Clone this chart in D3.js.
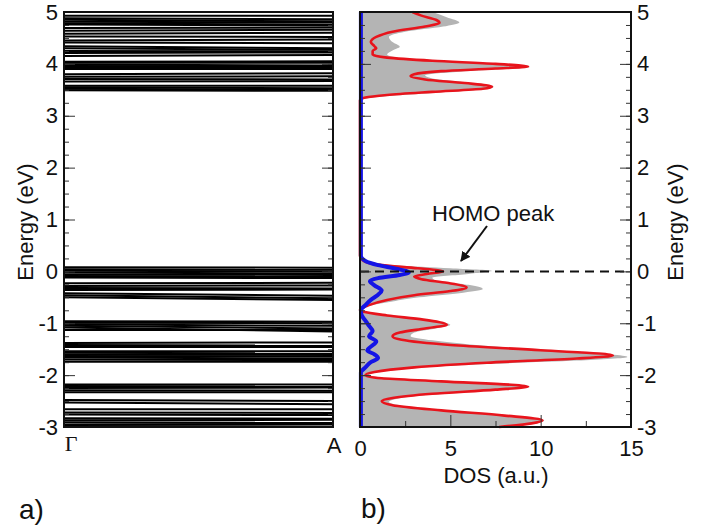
<!DOCTYPE html>
<html>
<head>
<meta charset="utf-8">
<script src="https://cdn.jsdelivr.net/npm/d3@7"></script>
<style>
  body { margin: 0; background: #fff; }
  text { font-family: "Liberation Sans", Arial, sans-serif; fill: #111; }
</style>
</head>
<body>
<svg id="chart" width="702" height="527"></svg>
<script>
// band energies (eV) at Gamma and at A, one entry per band
const bandsGamma = [4.93, 4.88, 4.85, 4.81, 4.78, 4.76, 4.69, 4.64, 4.58, 4.53, 4.45, 4.41, 4.34, 4.30, 4.25, 4.21, 4.15,
  4.04, 4.02, 3.99, 3.96, 3.93, 3.90, 3.80, 3.75, 3.71, 3.66, 3.58, 3.55, 3.52, 3.49,
  0.08, 0.04, 0.01, -0.02, -0.06, -0.09, -0.12, -0.23, -0.28, -0.32, -0.36, -0.42, -0.46, -0.50,
  -0.96, -0.99, -1.02, -1.05, -1.08, -1.13, -1.38, -1.42, -1.46, -1.54, -1.57, -1.60, -1.63, -1.66, -1.70, -1.74,
  -2.18, -2.21, -2.25, -2.29, -2.33, -2.48, -2.53, -2.66, -2.72, -2.76, -2.83, -2.87, -2.91, -2.95, -2.98];
const bandsA = [4.93, 4.86, 4.82, 4.80, 4.76, 4.74, 4.70, 4.66, 4.60, 4.52, 4.47, 4.40, 4.30, 4.27, 4.24, 4.22, 4.17,
  4.05, 4.02, 3.97, 3.95, 3.92, 3.90, 3.82, 3.76, 3.70, 3.67, 3.58, 3.53, 3.50, 3.48,
  0.07, 0.03, 0.00, -0.04, -0.07, -0.10, -0.13, -0.22, -0.27, -0.33, -0.35, -0.47, -0.52, -0.55,
  -0.97, -1.00, -1.05, -1.10, -1.16, -1.13, -1.37, -1.43, -1.46, -1.54, -1.58, -1.61, -1.64, -1.68, -1.71, -1.74,
  -2.18, -2.22, -2.24, -2.30, -2.33, -2.50, -2.56, -2.66, -2.73, -2.77, -2.84, -2.86, -2.92, -2.94, -2.99];

// DOS curves as [energy, dos]
const dosTotal = [[5.0, 4.0], [4.9, 4.8], [4.8, 5.5], [4.72, 4.6], [4.62, 2.5], [4.52, 1.6], [4.42, 1.8], [4.33, 2.2],
  [4.26, 1.8], [4.18, 1.5], [4.1, 2.5], [4.04, 5.0], [3.97, 8.5], [3.94, 9.4], [3.9, 8.0], [3.85, 5.5], [3.78, 3.6],
  [3.72, 4.0], [3.64, 6.0], [3.56, 7.4], [3.5, 6.5], [3.44, 4.0], [3.38, 1.5], [3.33, 0.3], [3.3, 0], [0.3, 0],
  [0.2, 0.4], [0.12, 2.0], [0.06, 5.0], [0.01, 7.3], [-0.05, 6.0], [-0.12, 4.0], [-0.18, 4.2], [-0.26, 6.0],
  [-0.34, 6.8], [-0.42, 5.5], [-0.5, 3.3], [-0.58, 1.8], [-0.66, 0.6], [-0.74, 0], [-0.78, 0.3], [-0.86, 2.0],
  [-0.95, 4.0], [-1.03, 5.0], [-1.1, 4.2], [-1.18, 3.0], [-1.25, 2.8], [-1.33, 4.0], [-1.45, 7.5], [-1.55, 12],
  [-1.65, 14.8], [-1.72, 12], [-1.8, 6], [-1.9, 2], [-1.97, 0.5], [-2.02, 0.6], [-2.1, 4], [-2.2, 9.0], [-2.23, 9.4],
  [-2.3, 7], [-2.38, 3.8], [-2.46, 2], [-2.52, 1.6], [-2.6, 2.5], [-2.7, 5.5], [-2.8, 8.8], [-2.87, 10.2],
  [-2.93, 9.8], [-3.0, 8.0]];
const dosRed = [[5.0, 2.9], [4.93, 3.4], [4.85, 4.2], [4.79, 4.4], [4.72, 3.6], [4.62, 1.8], [4.52, 0.9], [4.42, 0.6],
  [4.34, 0.8], [4.30, 0.9], [4.25, 0.7], [4.18, 0.7], [4.12, 1.5], [4.06, 4.0], [4.0, 7.5], [3.95, 9.3], [3.91, 7.5],
  [3.86, 4.5], [3.8, 3.0], [3.76, 2.8], [3.7, 3.6], [3.63, 5.8], [3.56, 7.3], [3.52, 6.8], [3.46, 4.0], [3.4, 1.5],
  [3.35, 0.3], [3.3, 0], [0.3, 0], [0.2, 0.2], [0.12, 1.2], [0.06, 3.2], [0.0, 4.6], [-0.05, 3.7], [-0.1, 3.0],
  [-0.15, 3.4], [-0.22, 4.8], [-0.31, 5.9], [-0.38, 5.0], [-0.46, 3.0], [-0.55, 1.5], [-0.65, 0.5], [-0.74, 0],
  [-0.78, 0.2], [-0.85, 1.5], [-0.93, 3.5], [-1.03, 4.8], [-1.1, 3.6], [-1.18, 2.2], [-1.25, 1.8], [-1.32, 2.3],
  [-1.42, 5], [-1.52, 10], [-1.62, 14.0], [-1.68, 12], [-1.76, 7], [-1.85, 3], [-1.94, 0.8], [-2.0, 0.3],
  [-2.06, 1.2], [-2.12, 4.5], [-2.22, 9.3], [-2.28, 7.5], [-2.36, 4.0], [-2.44, 1.8], [-2.5, 1.2], [-2.58, 1.8],
  [-2.68, 4.5], [-2.78, 8.0], [-2.87, 10.1], [-2.93, 9.5], [-3.0, 7.7]];
const dosBlue = [[5.0, 0.05], [0.3, 0.05], [0.2, 0.3], [0.12, 1.0], [0.05, 2.0], [-0.02, 2.7], [-0.07, 2.2],
  [-0.13, 1.0], [-0.19, 0.55], [-0.27, 0.8], [-0.37, 1.2], [-0.45, 1.0], [-0.55, 0.6], [-0.65, 0.3], [-0.75, 0.05],
  [-0.85, 0.1], [-0.95, 0.3], [-1.05, 0.5], [-1.15, 0.7], [-1.25, 0.5], [-1.35, 0.9], [-1.45, 0.6], [-1.52, 0.4],
  [-1.6, 0.8], [-1.67, 1.0], [-1.75, 0.6], [-1.85, 0.3], [-1.95, 0.05], [-3.0, 0.05]];

const energyTicks = [-3, -2, -1, 0, 1, 2, 3, 4, 5];
const dosTicks = [0, 5, 10, 15];
const kLabels = ["\u0393", "A"];

const svg = d3.select("#chart");
const yTop = 12, yBot = 427;
const y = d3.scaleLinear().domain([-3, 5]).range([yBot, yTop]);
const xk = d3.scaleLinear().domain([0, 1]).range([64, 333]);
const xd = d3.scaleLinear().domain([0, 15]).range([360, 631]);
const minorE = d3.range(-3, 5.01, 0.25);

// ---- panel a: bands
const pa = svg.append("g");
pa.selectAll("line.band")
  .data(bandsGamma)
  .enter().append("line")
  .attr("class", "band")
  .attr("x1", xk(0)).attr("x2", xk(1))
  .attr("y1", d => y(d))
  .attr("y2", (d, i) => y(bandsA[i]))
  .attr("stroke", "#000")
  .attr("stroke-width", 2);

function energyAxes(g, x0, x1, labelsLeft) {
  const fmt = d => String(d);
  g.append("g").attr("transform", `translate(${x0},0)`)
    .call(d3.axisLeft(y).tickValues(minorE).tickSize(-5).tickFormat(""));
  g.append("g").attr("transform", `translate(${x0},0)`)
    .call(d3.axisLeft(y).tickValues(energyTicks).tickSize(-11).tickPadding(6)
      .tickFormat(labelsLeft ? fmt : ""));
  g.append("g").attr("transform", `translate(${x1},0)`)
    .call(d3.axisRight(y).tickValues(minorE).tickSize(-5).tickFormat(""));
  g.append("g").attr("transform", `translate(${x1},0)`)
    .call(d3.axisRight(y).tickValues(energyTicks).tickSize(-11).tickPadding(6)
      .tickFormat(labelsLeft ? "" : fmt));
}
energyAxes(pa, 64, 333, true);

pa.append("rect")
  .attr("x", 64).attr("y", yTop).attr("width", 333 - 64).attr("height", yBot - yTop)
  .attr("fill", "none").attr("stroke", "#111").attr("stroke-width", 2);

pa.selectAll("text.k")
  .data(kLabels)
  .enter().append("text")
  .attr("class", "k")
  .attr("x", (d, i) => xk(i) + (i === 0 ? 7 : 1))
  .attr("y", (d, i) => i === 0 ? 451 : 453)
  .attr("text-anchor", "middle")
  .style("font-family", (d, i) => i === 0 ? "'Liberation Serif', serif" : null)
  .style("font-size", "22px")
  .text(d => d);

// ---- panel b: DOS
const pb = svg.append("g");
const area = d3.area()
  .y(d => y(d[0])).x0(xd(0)).x1(d => xd(d[1]))
  .curve(d3.curveMonotoneY);
const line = d3.line()
  .y(d => y(d[0])).x(d => xd(d[1]))
  .curve(d3.curveMonotoneY);

pb.append("path").datum(dosTotal).attr("d", area).attr("fill", "#b4b4b4");
pb.append("path").datum(dosRed).attr("d", line)
  .attr("fill", "none").attr("stroke", "#e8141c").attr("stroke-width", 2.6);
pb.append("path").datum(dosBlue).attr("d", line)
  .attr("fill", "none").attr("stroke", "#1414e6").attr("stroke-width", 4);

pb.append("line")
  .attr("x1", xd(0)).attr("x2", xd(15)).attr("y1", y(0)).attr("y2", y(0))
  .attr("stroke", "#111").attr("stroke-width", 2).attr("stroke-dasharray", "9,6");

energyAxes(pb, 360, 631, false);

pb.append("g").attr("transform", `translate(0,${yBot})`)
  .call(d3.axisBottom(xd).tickValues([2.5, 7.5, 12.5]).tickSize(-6).tickFormat(""));
pb.append("g").attr("transform", `translate(0,${yBot})`)
  .call(d3.axisBottom(xd).tickValues(dosTicks).tickSize(-12).tickPadding(13).tickFormat(d => String(d)));

pb.append("rect")
  .attr("x", 360).attr("y", yTop).attr("width", 631 - 360).attr("height", yBot - yTop)
  .attr("fill", "none").attr("stroke", "#111").attr("stroke-width", 2);

svg.selectAll(".tick text").style("font-size", "22px").attr("fill", "#111");
svg.selectAll(".domain").remove();
svg.selectAll(".tick line").attr("stroke", "#333");

// labels
svg.append("text")
  .attr("transform", "translate(33,222) rotate(-90)")
  .attr("text-anchor", "middle").style("font-size", "22px")
  .text("Energy (eV)");
svg.append("text")
  .attr("transform", "translate(683,222) rotate(-90)")
  .attr("text-anchor", "middle").style("font-size", "22px")
  .text("Energy (eV)");
svg.append("text")
  .attr("x", 496).attr("y", 483)
  .attr("text-anchor", "middle").style("font-size", "22px")
  .text("DOS (a.u.)");
svg.append("text")
  .attr("x", 432).attr("y", 221).style("font-size", "22px")
  .text("HOMO peak");
svg.append("text")
  .attr("x", 19).attr("y", 519).style("font-size", "28px")
  .text("a)");
svg.append("text")
  .attr("x", 361).attr("y", 518).style("font-size", "28px")
  .text("b)");

// arrow
svg.append("defs").append("marker")
  .attr("id", "head").attr("viewBox", "0 0 10 10")
  .attr("refX", 9).attr("refY", 5)
  .attr("markerWidth", 5).attr("markerHeight", 5)
  .attr("orient", "auto")
  .append("path").attr("d", "M0,0L10,5L0,10z").attr("fill", "#111");
svg.append("line")
  .attr("x1", 487).attr("y1", 226).attr("x2", 461).attr("y2", 261)
  .attr("stroke", "#111").attr("stroke-width", 2)
  .attr("marker-end", "url(#head)");
</script>
</body>
</html>
